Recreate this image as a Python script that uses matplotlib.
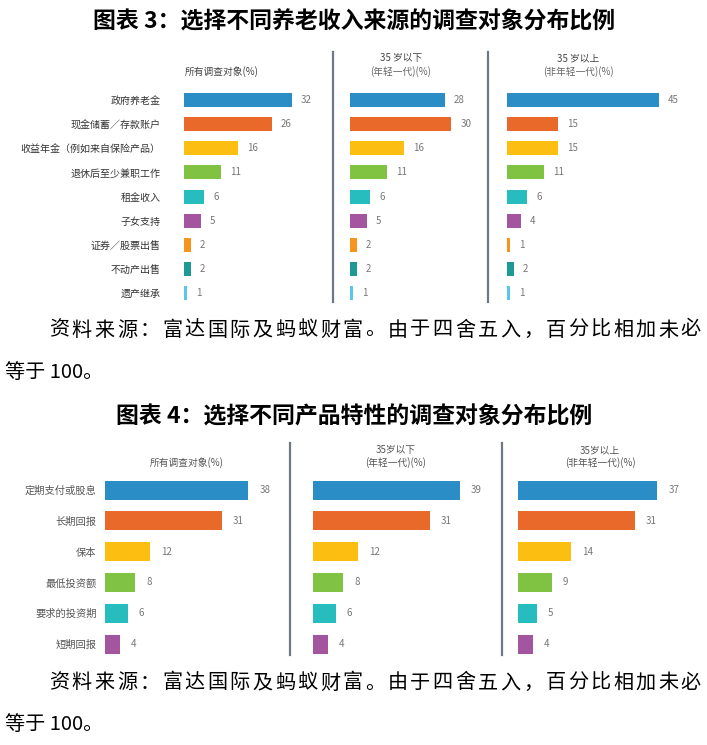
import matplotlib
matplotlib.use("Agg")
import matplotlib.pyplot as plt
import numpy as np
from matplotlib.lines import Line2D

plt.rcParams["font.family"] = ["Noto Sans CJK SC", "DejaVu Sans"]

W, H = 707, 745

# chart 3 data
income_sources = ["政府养老金", "现金储蓄／存款账户", "收益年金（例如来自保险产品）",
                  "退休后至少兼职工作", "租金收入", "子女支持", "证券／股票出售",
                  "不动产出售", "遗产继承"]
income_all = [32, 26, 16, 11, 6, 5, 2, 2, 1]
income_young = [28, 30, 16, 11, 6, 5, 2, 2, 1]
income_old = [45, 15, 15, 11, 6, 4, 1, 2, 1]
income_colors = ["#2A8DC5", "#E8692A", "#FDBE12", "#80C241", "#27BDBE",
                 "#A3569F", "#F7941D", "#1D9A94", "#5BC6EC"]

# chart 4 data
features = ["定期支付或股息", "长期回报", "保本", "最低投资额", "要求的投资期", "短期回报"]
feature_all = [38, 31, 12, 8, 6, 4]
feature_young = [39, 31, 12, 8, 6, 4]
feature_old = [37, 31, 14, 9, 5, 4]
feature_colors = income_colors[:6]

title3 = "图表 3：选择不同养老收入来源的调查对象分布比例"
title4 = "图表 4：选择不同产品特性的调查对象分布比例"
note_line1 = "资料来源：富达国际及蚂蚁财富。由于四舍五入，百分比相加未必"
note_line2 = "等于 100。"

fig = plt.figure(figsize=(W / 100, H / 100), dpi=100)
fig.patch.set_facecolor("white")


def px_axes(left, top, width, height):
    return fig.add_axes([left / W, 1 - (top + height) / H, width / W, height / H])


def text_px(x, y, s, **kw):
    fig.text(x / W, 1 - y / H, s, **kw)


def spaced_text(x0, x1, y, s, **kw):
    # justified line: one glyph per slot
    step = (x1 - x0) / len(s)
    for i, ch in enumerate(s):
        text_px(x0 + step * (i + 0.5), y, ch, ha="center", va="center", **kw)


def vline(x, y0, y1):
    fig.add_artist(Line2D([x / W, x / W], [1 - y0 / H, 1 - y1 / H],
                          transform=fig.transFigure, color="#6F7782", lw=1.6))


def draw_panel(left, first_row, step, scale, values, colors, bar_px, gap,
               labels=None, label_pad=0, label_fs=7, label_color="#333333"):
    n = len(values)
    width = 190
    ax = px_axes(left, first_row - step / 2, width, step * n)
    ax.patch.set_visible(False)
    y = np.arange(n)
    ax.barh(y, values, height=bar_px / step, color=colors)
    ax.set_xlim(0, width / scale)
    ax.set_ylim(n - 0.5, -0.5)
    for yi, v in zip(y, values):
        ax.text(v + gap / scale, yi, str(v), va="center", ha="left",
                fontsize=7, color="#777777", clip_on=False)
    for s in ax.spines.values():
        s.set_visible(False)
    ax.set_xticks([])
    if labels:
        ax.set_yticks(y)
        ax.set_yticklabels(labels, fontsize=label_fs, color=label_color)
        ax.tick_params(axis="y", length=0, pad=label_pad)
    else:
        ax.set_yticks([])
    return ax


# chart 3
text_px(354, 22, title3, ha="center", va="center", fontsize=16.5, fontweight="bold")
text_px(222, 72, "所有调查对象(%)", ha="center", va="center", fontsize=7, color="#444444")
text_px(401, 58, "35 岁以下", ha="center", va="center", fontsize=7, color="#444444")
text_px(401, 72, "(年轻一代)(%)", ha="center", va="center", fontsize=7, color="#666666")
text_px(578, 58, "35 岁以上", ha="center", va="center", fontsize=7, color="#444444")
text_px(578, 72, "(非年轻一代)(%)", ha="center", va="center", fontsize=7, color="#666666")
vline(333, 52, 302)
vline(488, 52, 302)

draw_panel(184, 100, 24.15, 3.38, income_all, income_colors, 14, 9,
           labels=income_sources, label_pad=17, label_fs=7.2)
draw_panel(350, 100, 24.15, 3.38, income_young, income_colors, 14, 9)
draw_panel(507, 100, 24.15, 3.38, income_old, income_colors, 14, 9)

spaced_text(48, 702, 330, note_line1, fontsize=14.5)
text_px(5, 372, note_line2, ha="left", va="center", fontsize=14.5)

# chart 4
text_px(354, 417, title4, ha="center", va="center", fontsize=16.5, fontweight="bold")
text_px(187, 463, "所有调查对象(%)", ha="center", va="center", fontsize=7, color="#555555")
text_px(396, 450, "35岁以下", ha="center", va="center", fontsize=7, color="#555555")
text_px(396, 463, "(年轻一代)(%)", ha="center", va="center", fontsize=7, color="#555555")
text_px(600, 450, "35岁以上", ha="center", va="center", fontsize=7, color="#555555")
text_px(600, 463, "(非年轻一代)(%)", ha="center", va="center", fontsize=7, color="#555555")
vline(290, 443, 655)
vline(502, 443, 655)

draw_panel(105, 490, 30.8, 3.77, feature_all, feature_colors, 19, 11,
           labels=features, label_pad=6, label_fs=7.4, label_color="#555555")
draw_panel(313, 490, 30.8, 3.77, feature_young, feature_colors, 19, 11)
draw_panel(518, 490, 30.8, 3.77, feature_old, feature_colors, 19, 11)

spaced_text(48, 702, 683, note_line1, fontsize=14.5)
text_px(5, 724, note_line2, ha="left", va="center", fontsize=14.5)

fig.savefig("out.png", dpi=100)
